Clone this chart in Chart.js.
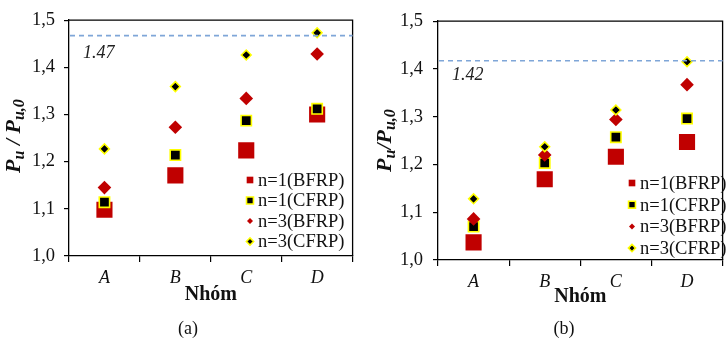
<!DOCTYPE html>
<html><head><meta charset="utf-8">
<script src="https://cdn.jsdelivr.net/npm/chart.js@4.4.0/dist/chart.umd.min.js"></script>
<style>
html,body{margin:0;padding:0;background:#fff;overflow:hidden;width:728px;height:341px;position:relative;}
#wa{position:absolute;left:0;top:0;width:364px;height:341px;}
#wb{position:absolute;left:364px;top:0;width:370px;height:341px;}
canvas{display:block;}
</style></head><body>
<div id="wa"><canvas id="ca"></canvas></div>
<div id="wb"><canvas id="cb"></canvas></div>
<script>
const categories = ['A', 'B', 'C', 'D'];
const seriesNames = ['n=1(BFRP)', 'n=1(CFRP)', 'n=3(BFRP)', 'n=3(CFRP)'];
const yTickValues = [1.0, 1.1, 1.2, 1.3, 1.4, 1.5];
const xTitle = 'Nhóm';

const a_n1B = [1.098, 1.171, 1.224, 1.300];
const a_n1C = [1.114, 1.214, 1.287, 1.312];
const a_n3B = [1.145, 1.273, 1.334, 1.428];
const a_n3C = [1.227, 1.359, 1.426, 1.473];
const a_ref = 1.467;
const a_refLabel = '1.47';
const a_caption = '(a)';

const b_n1B = [1.037, 1.169, 1.216, 1.247];
const b_n1C = [1.070, 1.203, 1.257, 1.296];
const b_n3B = [1.086, 1.220, 1.294, 1.367];
const b_n3C = [1.128, 1.237, 1.314, 1.415];
const b_ref = 1.417;
const b_refLabel = '1.42';
const b_caption = '(b)';

const SERIF = '"Liberation Serif", "Times New Roman", serif';
const RED = '#C00000';
const YEL = '#FFFF00';

const styles = [
  {ps: 'rect', r: 11.4, bg: RED, bc: RED, bw: 0, lr: 4.7},
  {ps: 'rect', r: 7.3, bg: '#000', bc: YEL, bw: 1.6, lr: 4.9},
  {ps: 'rectRot', r: 6.8, bg: RED, bc: RED, bw: 0, lr: 3.0},
  {ps: 'rectRot', r: 4.9, bg: '#000', bc: YEL, bw: 1.6, lr: 3.6}
];

const decorPlugin = {
  id: 'decor',
  afterDatasetsDraw(chart) {
    const o = chart.options.plugins.decor;
    const ctx = chart.ctx;
    const ca = chart.chartArea;
    const ys = chart.scales.y;
    ctx.save();
    ctx.strokeStyle = '#000';
    ctx.lineWidth = 1.3;
    ctx.beginPath();
    ctx.moveTo(ca.left, ca.top);
    ctx.lineTo(ca.right, ca.top);
    ctx.lineTo(ca.right, ca.bottom);
    ctx.stroke();
    const ry = ys.getPixelForValue(o.ref);
    ctx.strokeStyle = '#7FA6D8';
    ctx.lineWidth = 1.6;
    ctx.setLineDash([5, 4]);
    ctx.beginPath();
    ctx.moveTo(ca.left + 1, ry);
    ctx.lineTo(ca.right, ry);
    ctx.stroke();
    ctx.setLineDash([]);
    ctx.fillStyle = '#222';
    ctx.font = 'italic 18px ' + SERIF;
    ctx.textAlign = 'left';
    ctx.textBaseline = 'middle';
    ctx.fillText(o.refLabel, ca.left + o.refDx, ry + o.refDy);
    ctx.restore();
  },
  afterDraw(chart) {
    const o = chart.options.plugins.decor;
    const ctx = chart.ctx;
    const ca = chart.chartArea;
    ctx.save();
    ctx.font = '18px ' + SERIF;
    ctx.textBaseline = 'middle';
    ctx.textAlign = 'left';
    chart.data.datasets.forEach((ds, i) => {
      const st = styles[i];
      const y = o.legY + i * o.legDy;
      ctx.fillStyle = st.bg;
      ctx.strokeStyle = st.bc;
      ctx.lineWidth = st.bw;
      Chart.helpers.drawPoint(ctx, {pointStyle: st.ps, radius: st.lr, borderWidth: st.bw, rotation: 0}, o.legX, y);
      ctx.fillStyle = '#111';
      ctx.font = '18.5px ' + SERIF;
      ctx.fillText(ds.label, o.legX + 8, y + 1);
    });
    ctx.font = 'bold 20px ' + SERIF;
    ctx.textAlign = 'center';
    ctx.fillStyle = '#111';
    ctx.fillText(xTitle, (ca.left + ca.right) / 2 + (o.xTitleDx || 0), o.xTitleY);
    ctx.font = '18px ' + SERIF;
    ctx.fillText(o.caption, o.capX, o.capY);
    ctx.translate(o.yTitleX, (ca.top + ca.bottom) / 2 + (o.yTitleDy || 0));
    ctx.rotate(-Math.PI / 2);
    const big = 'bold italic 22px ' + SERIF;
    const small = 'bold italic 16px ' + SERIF;
    const segs = o.yTitleSegs;
    let total = 0;
    segs.forEach(s => { ctx.font = s.sub ? small : big; total += ctx.measureText(s.t).width; });
    let x = -total / 2;
    ctx.textAlign = 'left';
    ctx.textBaseline = 'alphabetic';
    segs.forEach(s => {
      ctx.font = s.sub ? small : big;
      ctx.fillText(s.t, x, s.sub ? 11 : 7);
      x += ctx.measureText(s.t).width;
    });
    ctx.restore();
  }
};

function makeChart(id, w, h, vals, g) {
  const cv = document.getElementById(id);
  cv.width = w; cv.height = h;
  cv.style.width = w + 'px'; cv.style.height = h + 'px';
  const datasets = vals.map((v, i) => ({
    label: seriesNames[i],
    data: v,
    showLine: false,
    pointStyle: styles[i].ps,
    pointRadius: styles[i].r,
    pointHoverRadius: styles[i].r,
    pointBackgroundColor: styles[i].bg,
    pointBorderColor: styles[i].bc,
    pointBorderWidth: styles[i].bw,
    backgroundColor: styles[i].bg,
    borderColor: styles[i].bc,
    order: 4 - i
  }));
  return new Chart(cv, {
    type: 'line',
    data: {labels: categories, datasets},
    options: {
      responsive: false,
      animation: false,
      events: [],
      layout: {padding: {top: g.top, right: g.right, left: 0, bottom: 0}},
      plugins: {
        legend: {display: false},
        tooltip: {enabled: false},
        decor: g.decor
      },
      scales: {
        x: {
          type: 'category',
          offset: true,
          grid: {display: true, drawOnChartArea: false, drawTicks: true, tickLength: 6, color: '#000', lineWidth: 1.2, offset: true},
          border: {display: true, color: '#000', width: 1.3},
          ticks: {color: '#111', font: {family: SERIF, size: 18, style: 'italic'}, padding: g.xPad, maxRotation: 0},
          afterFit: s => { s.height = g.xH; }
        },
        y: {
          min: 1.0, max: 1.5,
          afterBuildTicks: s => { s.ticks = yTickValues.map(v => ({value: v})); },
          grid: {display: true, drawOnChartArea: false, drawTicks: true, tickLength: 5, color: '#000', lineWidth: 1.2},
          border: {display: true, color: '#000', width: 1.3},
          ticks: {color: '#111', font: {family: SERIF, size: 18.5}, padding: g.yPad,
                  callback: v => Number(v).toFixed(1).replace('.', ',')},
          afterFit: s => { s.width = g.yW; }
        }
      }
    },
    plugins: [decorPlugin]
  });
}

makeChart('ca', 364, 341, [a_n1B, a_n1C, a_n3B, a_n3C], {
  top: 15, right: 11, xH: 85, yW: 69, xPad: 5, yPad: 9,
  decor: {
    ref: a_ref, refLabel: a_refLabel, refDx: 14, refDy: 18,
    legX: 250, legY: 180, legDy: 20.5,
    xTitleY: 295, caption: a_caption, capX: 188, capY: 329,
    yTitleX: 13, yTitleDy: -2,
    yTitleSegs: [{t: 'P'}, {t: 'u', sub: true}, {t: ' / '}, {t: 'P'}, {t: 'u,0', sub: true}]
  }
});

makeChart('cb', 370, 341, [b_n1B, b_n1C, b_n3B, b_n3C], {
  top: 17, right: 0, xH: 81, yW: 74, xPad: 5, yPad: 10,
  decor: {
    ref: b_ref, refLabel: b_refLabel, refDx: 14, refDy: 15,
    legX: 268, legY: 183, legDy: 21.7,
    xTitleY: 297, xTitleDx: 0, caption: b_caption, capX: 200, capY: 329,
    yTitleX: 20, yTitleDy: 0,
    yTitleSegs: [{t: 'P'}, {t: 'u', sub: true}, {t: '/'}, {t: 'P'}, {t: 'u,0', sub: true}]
  }
});
</script>
</body></html>
